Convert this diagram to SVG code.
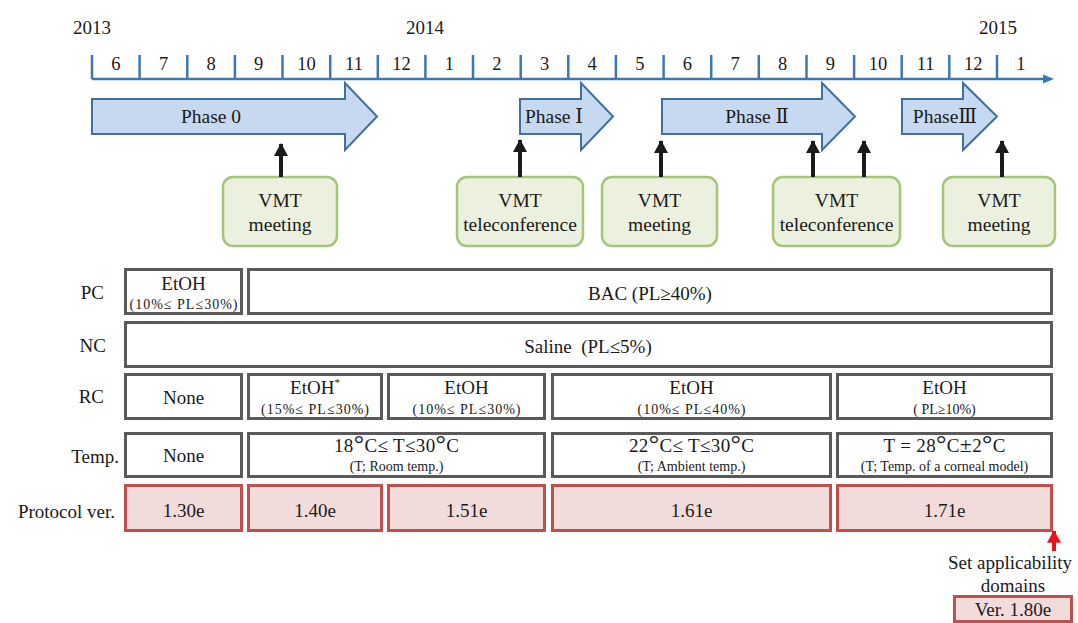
<svg xmlns="http://www.w3.org/2000/svg" width="1078" height="623" viewBox="0 0 1078 623" font-family="'Liberation Serif', 'DejaVu Serif', 'Noto Serif', serif">
  <defs>
    <style>
      text { font-family: 'Liberation Serif', 'DejaVu Serif', 'Noto Serif', serif; fill: #1a1a1a; }
      .yr { font-size: 19px; text-anchor: middle; }
      .mo { font-size: 18.5px; text-anchor: middle; }
      .axis { stroke: #3c78b4; stroke-width: 2.5; fill: none; }
      .phase { fill: #c6d9f0; stroke: #41709c; stroke-width: 2; }
      .phase-t { font-size: 19.5px; text-anchor: middle; }
      .vmt { fill: #ebf1de; stroke: #a6c47a; stroke-width: 2.5; }
      .vmt-t { font-size: 19.5px; text-anchor: middle; }
      .link { stroke: #1a1a1a; stroke-width: 4; fill: none; marker-end: url(#up); }
      .cell { fill: #ffffff; stroke: #5a5a5a; stroke-width: 3; }
      .ver { fill: #f2dcdb; stroke: #c0504d; stroke-width: 3; }
      .lbl { font-size: 19px; text-anchor: end; }
      .ct { font-size: 19px; text-anchor: middle; }
      .sub { font-size: 14px; text-anchor: middle; }
      .deg { font-size: 26px; }
    </style>
    <marker id="up" markerUnits="userSpaceOnUse" markerWidth="16" markerHeight="14" refX="12" refY="7" orient="auto" viewBox="0 0 14 14">
      <path d="M0,0 L13,7 L0,14 Z" fill="#1a1a1a"/>
    </marker>
    <marker id="upred" markerUnits="userSpaceOnUse" markerWidth="14" markerHeight="14" refX="11" refY="6.5" orient="auto" viewBox="0 0 13 13">
      <path d="M0,0 L12,6.5 L0,13 Z" fill="#e8141b"/>
    </marker>
  </defs>

  <!-- time axis -->
  <g id="timeline">
    <text class="yr" x="92" y="34">2013</text>
    <text class="yr" x="425" y="34">2014</text>
    <text class="yr" x="998" y="34">2015</text>
    <path class="axis" d="M92 79H1046"/>
    <path d="M1054,79 L1043,74.5 L1043,83.5 Z" fill="#3c78b4"/>
    <path class="axis" stroke-width="2" d="M92 55V79M139.6 55V79M187.3 55V79M234.9 55V79M282.5 55V79M330.2 55V79M377.8 55V79M425.4 55V79M473 55V79M520.7 55V79M568.3 55V79M615.9 55V79M663.6 55V79M711.2 55V79M758.8 55V79M806.5 55V79M854.1 55V79M901.7 55V79M949.3 55V79M997 55V79"/>
    <text class="mo" x="115.8" y="70">6</text>
    <text class="mo" x="163.5" y="70">7</text>
    <text class="mo" x="211.1" y="70">8</text>
    <text class="mo" x="258.7" y="70">9</text>
    <text class="mo" x="306.4" y="70">10</text>
    <text class="mo" x="354" y="70">11</text>
    <text class="mo" x="401.6" y="70">12</text>
    <text class="mo" x="449.3" y="70">1</text>
    <text class="mo" x="496.9" y="70">2</text>
    <text class="mo" x="544.5" y="70">3</text>
    <text class="mo" x="592.2" y="70">4</text>
    <text class="mo" x="639.8" y="70">5</text>
    <text class="mo" x="687.4" y="70">6</text>
    <text class="mo" x="735.1" y="70">7</text>
    <text class="mo" x="782.7" y="70">8</text>
    <text class="mo" x="830.3" y="70">9</text>
    <text class="mo" x="878" y="70">10</text>
    <text class="mo" x="925.6" y="70">11</text>
    <text class="mo" x="973.2" y="70">12</text>
    <text class="mo" x="1020.9" y="70">1</text>
  </g>

  <!-- phases -->
  <g id="phase0">
    <path class="phase" d="M92,99 H345 V83 L377,116.5 L345,150 V134 H92 Z"/>
    <text class="phase-t" x="211" y="123">Phase 0</text>
  </g>
  <g id="phase1">
    <path class="phase" d="M520,99 H581 V83 L613,116.5 L581,150 V134 H520 Z"/>
    <text class="phase-t" x="554" y="123">Phase Ⅰ</text>
  </g>
  <g id="phase2">
    <path class="phase" d="M662,99 H822 V83 L855,116.5 L822,150 V134 H662 Z"/>
    <text class="phase-t" x="757" y="123">Phase Ⅱ</text>
  </g>
  <g id="phase3">
    <path class="phase" d="M902,99 H963 V83 L997,116.5 L963,150 V134 H902 Z"/>
    <text class="phase-t" x="945" y="123">PhaseⅢ</text>
  </g>

  <!-- VMT events -->
  <g id="vmt1">
    <rect class="vmt" x="223" y="177" width="114" height="69" rx="10"/>
    <text class="vmt-t" x="280" y="207">VMT</text>
    <text class="vmt-t" x="280" y="231">meeting</text>
  </g>
  <g id="vmt2">
    <rect class="vmt" x="457" y="177" width="126" height="69" rx="10"/>
    <text class="vmt-t" x="520" y="207">VMT</text>
    <text class="vmt-t" x="520" y="231">teleconference</text>
  </g>
  <g id="vmt3">
    <rect class="vmt" x="602" y="177" width="115" height="69" rx="10"/>
    <text class="vmt-t" x="659.5" y="207">VMT</text>
    <text class="vmt-t" x="659.5" y="231">meeting</text>
  </g>
  <g id="vmt4">
    <rect class="vmt" x="773" y="177" width="127" height="69" rx="10"/>
    <text class="vmt-t" x="836.5" y="207">VMT</text>
    <text class="vmt-t" x="836.5" y="231">teleconference</text>
  </g>
  <g id="vmt5">
    <rect class="vmt" x="943" y="177" width="112" height="69" rx="10"/>
    <text class="vmt-t" x="999" y="207">VMT</text>
    <text class="vmt-t" x="999" y="231">meeting</text>
  </g>

  <!-- event arrows -->
  <g id="connectors">
    <path class="link" d="M281 177V144"/>
    <path class="link" d="M520 177V140"/>
    <path class="link" d="M661 177V141"/>
    <path class="link" d="M813 177V141"/>
    <path class="link" d="M864 177V141"/>
    <path class="link" d="M1002 177V141"/>
    <path d="M1054 551V531" stroke="#e8141b" stroke-width="4" fill="none" marker-end="url(#upred)"/>
  </g>

  <!-- row labels -->
  <g id="row-labels">
    <text class="lbl" x="104" y="299">PC</text>
    <text class="lbl" x="106" y="352">NC</text>
    <text class="lbl" x="104" y="403">RC</text>
    <text class="lbl" x="119" y="463">Temp.</text>
    <text class="lbl" x="115" y="518">Protocol ver.</text>
  </g>

  <!-- PC row -->
  <g id="pc-etoh">
    <rect class="cell" x="125.5" y="269.5" width="116" height="44"/>
    <text class="ct" x="183.5" y="290">EtOH</text>
    <text class="sub" x="183.5" y="309" textLength="108">(10%≤ PL≤30%)</text>
  </g>
  <g id="pc-bac">
    <rect class="cell" x="248.5" y="269.5" width="803" height="44"/>
    <text class="ct" x="650" y="300">BAC (PL≥40%)</text>
  </g>

  <!-- NC row -->
  <g id="nc-saline">
    <rect class="cell" x="125.5" y="322.5" width="926" height="44"/>
    <text class="ct" x="588" y="353" xml:space="preserve">Saline  (PL≤5%)</text>
  </g>

  <!-- RC row -->
  <g id="rc-none">
    <rect class="cell" x="125.5" y="374.5" width="116" height="44"/>
    <text class="ct" x="183.5" y="404">None</text>
  </g>
  <g id="rc-etoh-15">
    <rect class="cell" x="248.5" y="374.5" width="133" height="44"/>
    <text class="ct" x="315" y="394">EtOH<tspan font-size="11" dy="-8">*</tspan></text>
    <text class="sub" x="315" y="414" textLength="108">(15%≤ PL≤30%)</text>
  </g>
  <g id="rc-etoh-10-30">
    <rect class="cell" x="388.5" y="374.5" width="156" height="44"/>
    <text class="ct" x="466.5" y="394">EtOH</text>
    <text class="sub" x="466.5" y="414" textLength="108">(10%≤ PL≤30%)</text>
  </g>
  <g id="rc-etoh-10-40">
    <rect class="cell" x="552.5" y="374.5" width="278" height="44"/>
    <text class="ct" x="691.5" y="394">EtOH</text>
    <text class="sub" x="691.5" y="414" textLength="108">(10%≤ PL≤40%)</text>
  </g>
  <g id="rc-etoh-10">
    <rect class="cell" x="837.5" y="374.5" width="214" height="44"/>
    <text class="ct" x="944.5" y="394">EtOH</text>
    <text class="sub" x="944.5" y="414">( PL≥10%)</text>
  </g>

  <!-- Temperature row -->
  <g id="temp-none">
    <rect class="cell" x="125.5" y="433.5" width="116" height="43"/>
    <text class="ct" x="183.5" y="462">None</text>
  </g>
  <g id="temp-room">
    <rect class="cell" x="248.5" y="433.5" width="296" height="43"/>
    <text class="ct" x="396.5" y="452" textLength="125">18<tspan class="deg">°</tspan>C≤ T≤30<tspan class="deg">°</tspan>C</text>
    <text class="sub" x="396.5" y="471">(T; Room temp.)</text>
  </g>
  <g id="temp-ambient">
    <rect class="cell" x="552.5" y="433.5" width="278" height="43"/>
    <text class="ct" x="691.5" y="452" textLength="125">22<tspan class="deg">°</tspan>C≤ T≤30<tspan class="deg">°</tspan>C</text>
    <text class="sub" x="691.5" y="471">(T; Ambient temp.)</text>
  </g>
  <g id="temp-cornea">
    <rect class="cell" x="837.5" y="433.5" width="214" height="43"/>
    <text class="ct" x="944.5" y="452" textLength="122">T = 28<tspan class="deg">°</tspan>C<tspan font-size="22">±</tspan>2<tspan class="deg">°</tspan>C</text>
    <text class="sub" x="944.5" y="471">(T; Temp. of a corneal model)</text>
  </g>

  <!-- Protocol versions -->
  <g id="ver-130">
    <rect class="ver" x="125.5" y="485.5" width="116" height="45"/>
    <text class="ct" x="183.5" y="517">1.30e</text>
  </g>
  <g id="ver-140">
    <rect class="ver" x="248.5" y="485.5" width="133" height="45"/>
    <text class="ct" x="315" y="517">1.40e</text>
  </g>
  <g id="ver-151">
    <rect class="ver" x="388.5" y="485.5" width="156" height="45"/>
    <text class="ct" x="466.5" y="517">1.51e</text>
  </g>
  <g id="ver-161">
    <rect class="ver" x="552.5" y="485.5" width="278" height="45"/>
    <text class="ct" x="691.5" y="517">1.61e</text>
  </g>
  <g id="ver-171">
    <rect class="ver" x="837.5" y="485.5" width="214" height="45"/>
    <text class="ct" x="944.5" y="517">1.71e</text>
  </g>

  <!-- applicability domains -->
  <g id="ver-180">
    <text class="ct" x="1010" y="569" font-size="20">Set applicability</text>
    <text class="ct" x="1013" y="592" font-size="20">domains</text>
    <rect class="ver" x="954.5" y="596.5" width="117" height="25"/>
    <text class="ct" x="1013" y="616" font-size="20">Ver. 1.80e</text>
  </g>
</svg>
